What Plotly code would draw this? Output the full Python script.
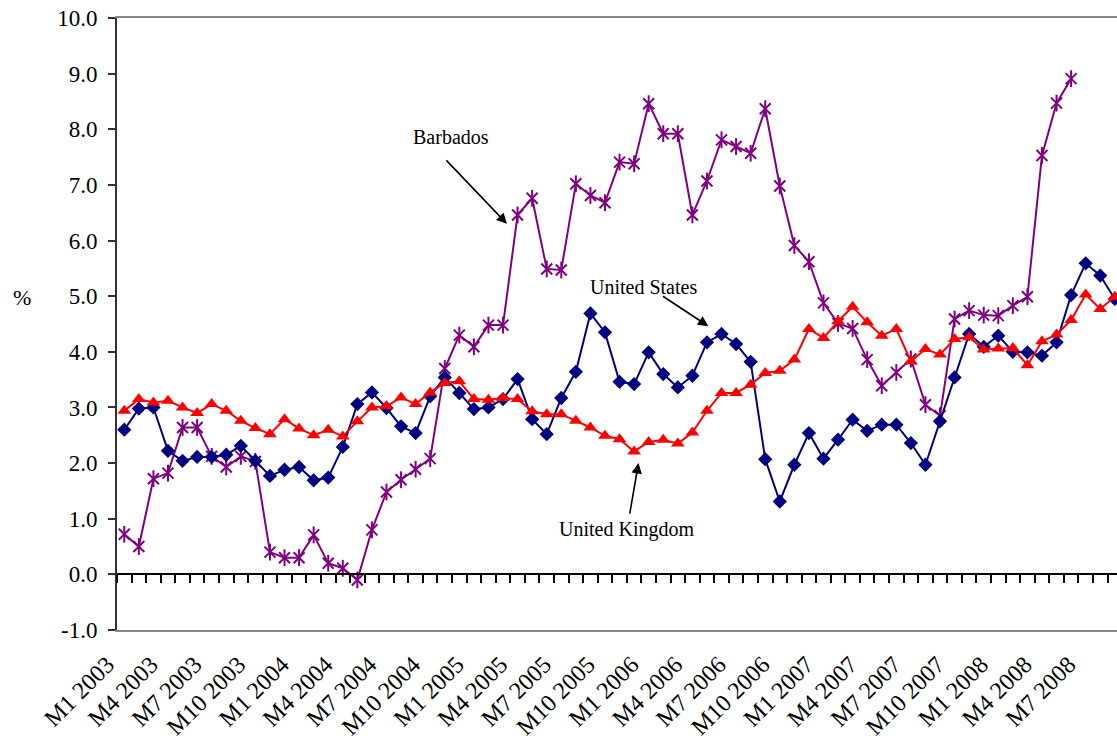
import plotly.graph_objects as go

# Monthly categories, January 2003 to September 2008
categories = [f"M{m} {y}" for y in range(2003, 2009) for m in range(1, 13)][:69]
tick_labels = categories[::3]

# y-axis ticks, -1 to 10 percent
y_ticks = list(range(-1, 11))
y_tick_text = [f"{v:.1f}" for v in y_ticks]

# Inflation rates (%)
barbados = [0.72, 0.50, 1.72, 1.82, 2.64, 2.64, 2.12, 1.93, 2.12, 2.03,
            0.40, 0.30, 0.30, 0.71, 0.20, 0.11, -0.10, 0.80, 1.48, 1.70,
            1.89, 2.08, 3.70, 4.30, 4.09, 4.48, 4.48, 6.46, 6.76, 5.49,
            5.47, 7.02, 6.81, 6.68, 7.41, 7.38, 8.46, 7.92, 7.92, 6.46,
            7.07, 7.81, 7.69, 7.57, 8.37, 6.98, 5.91, 5.62, 4.88, 4.51,
            4.42, 3.86, 3.39, 3.63, 3.87, 3.05, 2.85, 4.59, 4.74, 4.66,
            4.65, 4.83, 4.99, 7.53, 8.47, 8.91, None, None, None]

united_states = [2.60, 2.98, 3.00, 2.22, 2.04, 2.11, 2.11, 2.15, 2.31, 2.04,
                 1.77, 1.88, 1.93, 1.69, 1.74, 2.29, 3.06, 3.27, 2.99, 2.66,
                 2.54, 3.20, 3.54, 3.26, 2.97, 3.00, 3.15, 3.51, 2.79, 2.52,
                 3.17, 3.64, 4.69, 4.35, 3.46, 3.42, 3.99, 3.60, 3.36, 3.57,
                 4.17, 4.32, 4.14, 3.82, 2.07, 1.31, 1.97, 2.54, 2.08, 2.42,
                 2.78, 2.58, 2.69, 2.69, 2.36, 1.97, 2.75, 3.54, 4.32, 4.09,
                 4.29, 4.00, 3.99, 3.93, 4.17, 5.02, 5.59, 5.37, 4.95]

united_kingdom = [2.94, 3.15, 3.09, 3.12, 3.00, 2.90, 3.06, 2.94, 2.76, 2.63,
                  2.52, 2.79, 2.62, 2.50, 2.60, 2.48, 2.75, 3.00, 3.02, 3.18,
                  3.06, 3.27, 3.44, 3.47, 3.15, 3.14, 3.17, 3.15, 2.93, 2.88,
                  2.88, 2.76, 2.64, 2.49, 2.43, 2.21, 2.38, 2.42, 2.35, 2.55,
                  2.94, 3.26, 3.26, 3.41, 3.62, 3.66, 3.86, 4.41, 4.25, 4.55,
                  4.81, 4.53, 4.29, 4.41, 3.83, 4.05, 3.95, 4.23, 4.26, 4.04,
                  4.06, 4.07, 3.76, 4.19, 4.31, 4.57, 5.03, 4.77, 4.99]

FONT = "Liberation Serif"
PURPLE = "#800080"
NAVY = "#000080"
RED = "#FF0000"

fig = go.Figure()

# Barbados: asterisk marker built from an x plus a vertical bar
fig.add_trace(go.Scatter(
    x=categories, y=barbados, mode="lines+markers", name="Barbados",
    line=dict(color=PURPLE, width=2),
    marker=dict(symbol="x-thin-open", size=11, color=PURPLE,
                line=dict(color=PURPLE, width=2)),
    showlegend=False,
))
fig.add_trace(go.Scatter(
    x=categories, y=barbados, mode="markers", name="Barbados",
    marker=dict(symbol="line-ns-open", size=12, color=PURPLE,
                line=dict(color=PURPLE, width=2)),
    showlegend=False, hoverinfo="skip",
))
fig.add_trace(go.Scatter(
    x=categories, y=united_states, mode="lines+markers", name="United States",
    line=dict(color=NAVY, width=2),
    marker=dict(symbol="diamond", size=11, color=NAVY),
    showlegend=False,
))
fig.add_trace(go.Scatter(
    x=categories, y=united_kingdom, mode="lines+markers", name="United Kingdom",
    line=dict(color=RED, width=2),
    marker=dict(symbol="triangle-up", size=12, color=RED),
    showlegend=False,
))
# helper trace that carries the category axis crossing at zero
fig.add_trace(go.Scatter(
    x=categories, y=[None] * len(categories), xaxis="x2", yaxis="y",
    mode="lines", showlegend=False, hoverinfo="skip",
))

x_range = [-0.5, 68.15]

fig.update_layout(
    width=1117, height=740,
    margin=dict(l=117, r=0, t=18, b=110),
    plot_bgcolor="white", paper_bgcolor="white",
    font=dict(family=FONT, size=20, color="black"),
    xaxis=dict(
        type="category", range=x_range, automargin=False,
        tickmode="array", tickvals=tick_labels, ticktext=tick_labels,
        tickangle=-45, ticks="", showgrid=False, zeroline=False,
        showline=True, linecolor="#888888", linewidth=2, mirror=True,
        ticklabelshift=-17, ticklabelstandoff=9,
        tickfont=dict(family=FONT, size=24, color="black"),
    ),
    xaxis2=dict(
        type="category", overlaying="x", matches="x", range=x_range,
        anchor="free", position=1 / 11, automargin=False,
        tickmode="linear", tick0=0, dtick=1, tickson="boundaries",
        ticks="outside", ticklen=8, tickwidth=1.5, tickcolor="black",
        showticklabels=False, showgrid=False, zeroline=False,
        showline=True, linecolor="black", linewidth=1.5,
    ),
    yaxis=dict(
        range=[-1, 10], tickmode="array", tickvals=y_ticks, ticktext=y_tick_text,
        automargin=False,
        ticks="outside", ticklen=7, tickwidth=2,
        tickcolor="#333333", showgrid=False, zeroline=False,
        showline=True, linecolor="#333333", linewidth=2,
        ticklabelstandoff=6,
        tickfont=dict(family=FONT, size=23, color="black"),
    ),
)

# y-axis unit, written horizontally
fig.add_annotation(text="%", xref="paper", yref="paper", x=-0.095, y=0.544,
                   xanchor="center", yanchor="middle",
                   showarrow=False, font=dict(family=FONT, size=22))

# Series labels with pointer arrows
labels = [
    ("Barbados", 22.44, 7.87, 26.27, 6.30, -62, -65),
    ("United States", 35.62, 5.17, 40.1, 4.46, -47, -31),
    ("United Kingdom", 34.45, 0.80, 35.3, 2.0, -9, 52),
]
for text, tx, ty, hx, hy, ax, ay in labels:
    fig.add_annotation(text=text, x=tx, y=ty, xref="x", yref="y",
                       showarrow=False, font=dict(family=FONT, size=20))
    fig.add_annotation(text="", x=hx, y=hy, xref="x", yref="y",
                       ax=ax, ay=ay, axref="pixel", ayref="pixel",
                       showarrow=True, arrowhead=2, arrowsize=1.3,
                       arrowwidth=1.6, arrowcolor="black")

fig.write_html("out.html")
